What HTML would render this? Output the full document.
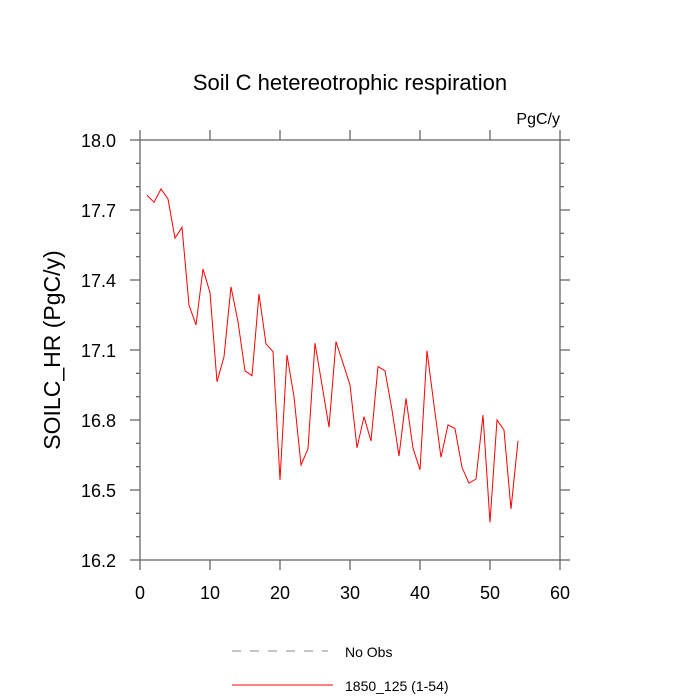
<!DOCTYPE html>
<html><head><meta charset="utf-8"><style>
body{margin:0;background:#fff;}
svg{display:block;font-family:"Liberation Sans",sans-serif;}
</style></head><body>
<svg id="chart" width="700" height="700">
<text x="350" y="90" text-anchor="middle" font-size="22">Soil C hetereotrophic respiration</text>
<text x="560" y="124" text-anchor="end" font-size="16">PgC/y</text>
<text transform="translate(60,350) rotate(-90)" text-anchor="middle" font-size="23">SOILC_HR  (PgC/y)</text>
<rect x="140" y="140" width="420" height="420" fill="none" stroke="#666" stroke-width="1.3"/>
<g id="ticks"></g>
<path id="series" fill="none" stroke="#ff0000" stroke-width="1"/>
<line x1="232" y1="651" x2="328" y2="651" stroke="#888" stroke-dasharray="9,9"/>
<text x="345" y="657" font-size="14">No Obs</text>
<line x1="232" y1="685" x2="333" y2="685" stroke="#ff0000"/>
<text x="345" y="691" font-size="14">1850_125 (1-54)</text>
</svg>
<script>
const xTicks=[0,10,20,30,40,50,60];
const yTicks=[16.2,16.5,16.8,17.1,17.4,17.7,18.0];
const yTickLabels=["16.2","16.5","16.8","17.1","17.4","17.7","18.0"];
const years=[];for(let i=1;i<=54;i++)years.push(i);
const values=[17.764,17.733,17.79,17.747,17.579,17.626,17.293,17.207,17.447,17.346,16.964,17.071,17.371,17.221,17.011,16.99,17.34,17.126,17.093,16.543,17.079,16.9,16.607,16.676,17.129,16.95,16.769,17.136,17.044,16.95,16.681,16.814,16.71,17.029,17.011,16.843,16.646,16.893,16.679,16.586,17.097,16.864,16.64,16.779,16.763,16.597,16.529,16.547,16.821,16.361,16.8,16.757,16.419,16.711];
const X=v=>140+(v-0)/60*420;
const Y=v=>560-(v-16.2)/1.8*420;
const NS="http://www.w3.org/2000/svg";
const g=document.getElementById('ticks');
function ln(x1,y1,x2,y2,name){const l=document.createElementNS(NS,'line');l.setAttribute('x1',x1);l.setAttribute('y1',y1);l.setAttribute('x2',x2);l.setAttribute('y2',y2);l.setAttribute('stroke','#666');l.setAttribute('stroke-width','1.3');


g.appendChild(l);}
function tx(x,y,s,anchor,name){const t=document.createElementNS(NS,'text');t.setAttribute('x',x);t.setAttribute('y',y);t.setAttribute('text-anchor',anchor);t.setAttribute('font-size','18');t.textContent=s;


g.appendChild(t);}
xTicks.forEach(v=>{const x=X(v);ln(x,560,x,570,'x-tick');ln(x,140,x,130,'x-tick-top');});
xTicks.forEach(v=>tx(X(v),599,String(v),'middle','x-tick-label'));
for(let k=0;k<=18;k++){const v=16.2+k*0.1;const y=Y(v);const maj=k%3===0;const L=maj?10:4;ln(140,y,140-L,y,'y-tick');ln(560,y,560+L,y,'y-tick-right');}
yTicks.forEach((v,i)=>tx(116,Y(v)+7,yTickLabels[i],'end','y-tick-label'));
document.getElementById('series').setAttribute('d',years.map((t,i)=>(i?'L':'M')+X(t).toFixed(1)+','+Y(values[i]).toFixed(1)).join(' '));
</script>
</body></html>
